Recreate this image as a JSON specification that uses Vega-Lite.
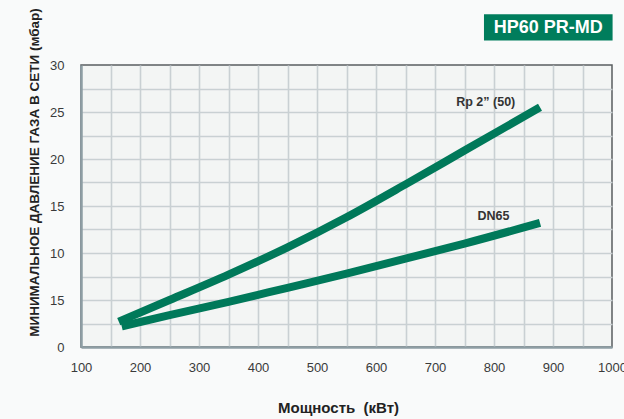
{
  "$schema": "https://vega.github.io/schema/vega-lite/v6.json",
  "width": 531,
  "height": 282,
  "autosize": {"type": "none"},
  "padding": {"left": 81, "top": 65, "right": 12, "bottom": 72},
  "background": "#f9fafa",
  "config": {
    "font": "Liberation Sans",
    "view": {"fill": "#f3f5f4", "stroke": "#5a5e60", "strokeWidth": 1.5}
  },
  "resolve": {"axis": {"x": "independent", "y": "independent"}},
  "layer": [
    {
      "data": {
        "values": [
          {"kw": 164, "p": 2.7, "series": "Rp 2” (50)"},
          {"kw": 250, "p": 5.0, "series": "Rp 2” (50)"},
          {"kw": 350, "p": 7.7, "series": "Rp 2” (50)"},
          {"kw": 450, "p": 10.6, "series": "Rp 2” (50)"},
          {"kw": 550, "p": 13.8, "series": "Rp 2” (50)"},
          {"kw": 650, "p": 17.3, "series": "Rp 2” (50)"},
          {"kw": 750, "p": 20.9, "series": "Rp 2” (50)"},
          {"kw": 878, "p": 25.5, "series": "Rp 2” (50)"},
          {"kw": 169, "p": 2.2, "series": "DN65"},
          {"kw": 250, "p": 3.4, "series": "DN65"},
          {"kw": 350, "p": 4.8, "series": "DN65"},
          {"kw": 450, "p": 6.3, "series": "DN65"},
          {"kw": 550, "p": 7.8, "series": "DN65"},
          {"kw": 650, "p": 9.4, "series": "DN65"},
          {"kw": 750, "p": 11.0, "series": "DN65"},
          {"kw": 878, "p": 13.2, "series": "DN65"}
        ]
      },
      "mark": {"type": "line", "strokeWidth": 8, "strokeCap": "butt", "interpolate": "monotone", "color": "#00795a"},
      "encoding": {
        "x": {
          "field": "kw", "type": "quantitative",
          "scale": {"domain": [100, 1000], "nice": false, "zero": false},
          "axis": {
            "orient": "top",
            "values": [150,200,250,300,350,400,450,500,550,600,650,700,750,800,850,900,950],
            "tickCount": 60,
            "grid": true,
            "gridColor": "#c9d0d3",
            "gridWidth": 1.6,
            "labels": false,
            "ticks": false,
            "domain": false,
            "title": null
          }
        },
        "y": {
          "field": "p", "type": "quantitative",
          "scale": {"domain": [0, 30], "nice": false},
          "axis": {
            "orient": "right",
            "values": [2.5,5,7.5,10,12.5,15,17.5,20,22.5,25,27.5],
            "tickCount": 60,
            "grid": true,
            "gridColor": "#c9d0d3",
            "gridWidth": 1.6,
            "labels": false,
            "ticks": false,
            "domain": false,
            "title": null
          }
        },
        "detail": {"field": "series", "type": "nominal"}
      }
    },
    {
      "data": {
        "values": [
          {"kw": 786, "p": 26.1, "label": "Rp 2” (50)"},
          {"kw": 799, "p": 13.9, "label": "DN65"}
        ]
      },
      "mark": {"type": "text", "fontWeight": "bold", "fontSize": 12.5, "color": "#333", "baseline": "middle", "align": "center"},
      "encoding": {
        "x": {
          "field": "kw", "type": "quantitative",
          "axis": {
            "orient": "bottom",
            "values": [100,200,300,400,500,600,700,800,900,1000],
            "tickCount": 60,
            "format": "d",
            "grid": false,
            "ticks": false,
            "domainColor": "#8e9ea4",
            "domainWidth": 2.5,
            "labelFontSize": 13,
            "labelColor": "#3a3a3a",
            "labelPadding": 14,
            "labelFlush": false,
            "labelOverlap": false,
            "title": "Мощность\u00a0 (кВт)",
            "titleFontSize": 15,
            "titleFontWeight": "bold",
            "titleColor": "#222",
            "titleX": 257,
            "titleY": 60,
            "titleBaseline": "middle",
            "titleAlign": "center"
          }
        },
        "y": {
          "field": "p", "type": "quantitative",
          "axis": {
            "orient": "left",
            "values": [0,5,10,15,20,25,30],
            "tickCount": 60,
            "format": "d",
            "labelExpr": "datum.value == 5 ? '15' : datum.label",
            "grid": false,
            "ticks": false,
            "domainColor": "#8e9ea4",
            "domainWidth": 2.5,
            "labelFontSize": 13,
            "labelColor": "#3a3a3a",
            "labelPadding": 17,
            "labelFlush": false,
            "labelOverlap": false,
            "title": "МИНИМАЛЬНОЕ ДАВЛЕНИЕ ГАЗА В СЕТИ (мбар)",
            "titleFontSize": 13.5,
            "titleFontWeight": "bold",
            "titleColor": "#222",
            "titleAngle": -90,
            "titleX": -47,
            "titleY": 107,
            "titleBaseline": "middle",
            "titleAlign": "center"
          }
        },
        "text": {"field": "label"}
      }
    },
    {
      "data": {"values": [{"x1": 783, "x2": 1001, "y1": 32.6, "y2": 35.4, "xc": 892, "yc": 34, "label": "HP60 PR-MD"}]},
      "layer": [
        {
          "mark": {"type": "rect", "color": "#007d5c"},
          "encoding": {
            "x": {"field": "x1", "type": "quantitative", "axis": null},
            "x2": {"field": "x2"},
            "y": {"field": "y1", "type": "quantitative", "axis": null},
            "y2": {"field": "y2"}
          }
        },
        {
          "mark": {"type": "text", "color": "white", "fontWeight": "bold", "fontSize": 18, "baseline": "middle", "align": "center", "dy": 1},
          "encoding": {
            "x": {"field": "xc", "type": "quantitative", "axis": null},
            "y": {"field": "yc", "type": "quantitative", "axis": null},
            "text": {"field": "label"}
          }
        }
      ]
    }
  ]
}
